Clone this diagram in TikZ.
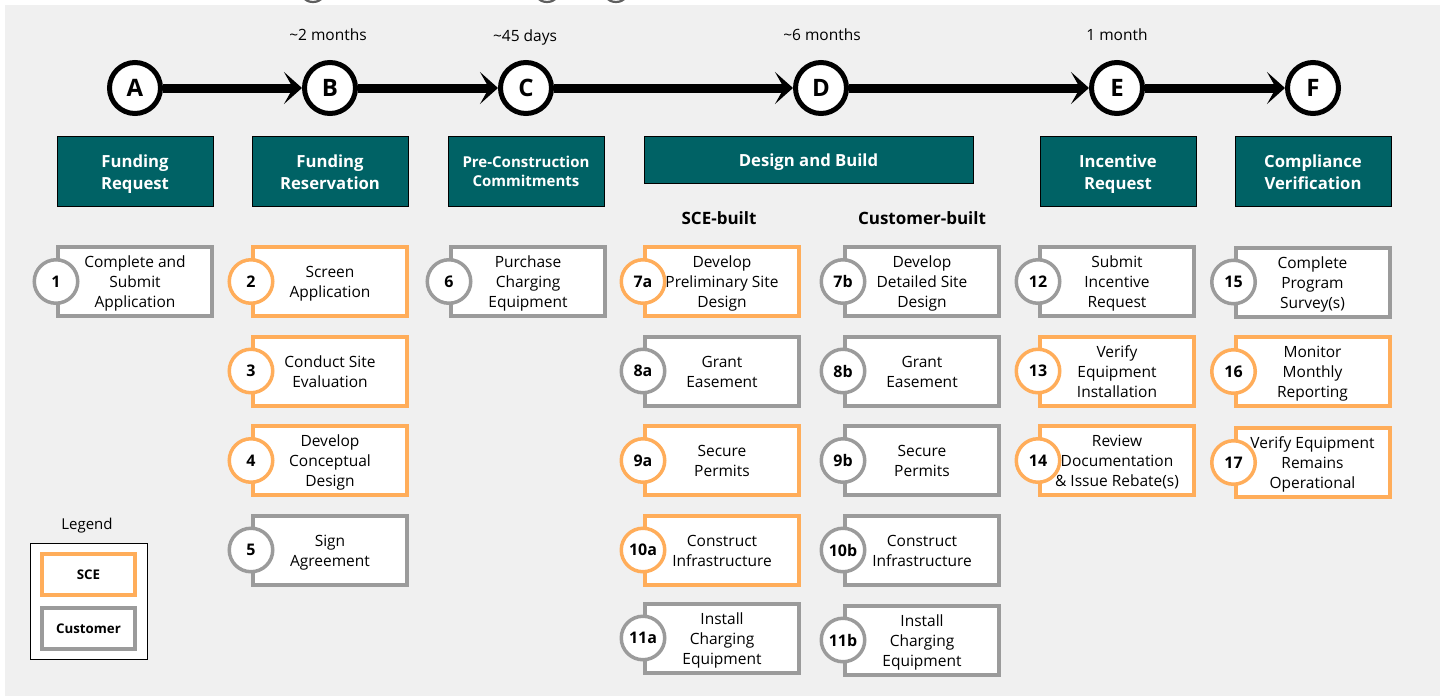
\documentclass[tikz,border=0pt]{standalone}
\usepackage{fontspec}
\setmainfont{Open Sans}
\usetikzlibrary{arrows.meta}
\definecolor{tealhead}{RGB}{0,98,101}
\definecolor{sceorange}{RGB}{255,173,90}
\definecolor{custgray}{RGB}{155,155,155}
\definecolor{bggray}{RGB}{240,240,240}
\definecolor{arcgray}{RGB}{95,95,95}
\newcommand\bodyfont{\fontsize{15.5}{20}\selectfont}
\newcommand\dstrut{\rule[-5pt]{0pt}{5pt}}
\newcommand\stepnode[6]{%
  \node[stepbox=#2] (s#1) at (#3,#4) {};
  \node[steptext] (t#1) at ([yshift=-3pt]s#1.center) {#6};
  \node[numc=#2] (n#1) at (s#1.west) {#5};}
\begin{document}
\begin{tikzpicture}[x=1pt,y=-1pt,
  mile/.style={circle, draw=black, line width=5pt, fill=white, minimum size=51pt, inner sep=0pt, font=\fontsize{24}{24}\selectfont\bfseries},
  conn/.style={line width=9pt, -{Stealth[length=18pt,width=32pt,inset=9pt]}},
  dur/.style={font=\fontsize{15.5}{18}\selectfont, inner sep=0pt},
  head/.style={draw=black, line width=0.8pt, fill=tealhead, minimum width=156pt, minimum height=70pt, inner sep=0pt},
  headtext/.style={text=white, align=center, inner sep=0pt, font=\fontsize{16.7}{22}\selectfont\bfseries, execute at end node=\dstrut},
  sub/.style={font=\fontsize{17}{18}\selectfont\bfseries, inner sep=0pt},
  stepbox/.style={draw=#1, line width=4pt, fill=white, minimum width=154pt, minimum height=69pt, inner sep=0pt},
  steptext/.style={align=center, inner sep=0pt, font=\bodyfont, execute at end node=\dstrut},
  numc/.style={circle, draw=#1, line width=3.5pt, fill=white, minimum size=43.5pt, inner sep=0pt, font=\fontsize{16}{16}\selectfont\bfseries},
  legbox/.style={draw=#1, line width=4pt, fill=white, minimum width=93pt, minimum height=41pt, inner sep=0pt, font=\fontsize{13.3}{13}\selectfont\bfseries}
]
\useasboundingbox (0,0) rectangle (1442,696);
\fill[bggray] (5,5) rectangle (1440,696);
\begin{scope}
  \clip (0,0) rectangle (1442,5);
  \draw[arcgray, line width=2.2pt] (313,-12) circle (14pt);
  \draw[arcgray, line width=2.2pt] (547,-12) circle (14pt);
  \draw[arcgray, line width=2.2pt] (616,-12) circle (14pt);
\end{scope}

% milestones
\node[mile] (A) at (135,88) {A};
\node[mile] (B) at (330,88) {B};
\node[mile] (C) at (526,88) {C};
\node[mile] (D) at (821,88) {D};
\node[mile] (E) at (1117,88) {E};
\node[mile] (F) at (1313,88) {F};
\draw[conn] (A) -- (B);
\draw[conn] (B) -- (C);
\draw[conn] (C) -- (D);
\draw[conn] (D) -- (E);
\draw[conn] (E) -- (F);

\node[dur] (dB) at (328,35) {\textasciitilde2 months};
\node[dur] (dC) at (525,37) {\textasciitilde45 days};
\node[dur] (dD) at (822,35) {\textasciitilde6 months};
\node[dur] (dE) at (1117,35) {1 month};

% headers
\node[head] (hA) at (135,171) {};
\node[headtext] (htA) at ([yshift=-3.5pt]hA.center) {Funding\\Request};
\node[head] (hB) at (330,171) {};
\node[headtext] (htB) at ([yshift=-3.5pt]hB.center) {Funding\\Reservation};
\node[head] (hC) at (526,171) {};
\node[headtext, font=\fontsize{15}{19.5}\selectfont\bfseries] (htC) at ([yshift=-3pt]hC.center) {Pre-Construction\\Commitments};
\node[head, minimum width=329pt, minimum height=47pt] (hD) at (808.5,159.5) {};
\node[headtext] (htD) at ([yshift=-3pt]hD.center) {Design and Build};
\node[head] (hE) at (1118,171) {};
\node[headtext] (htE) at ([yshift=-3.5pt]hE.center) {Incentive\\Request};
\node[head] (hF) at (1313,171) {};
\node[headtext] (htF) at ([yshift=-3.5pt]hF.center) {Compliance\\Verification};

\node[sub] (sa) at (719,218) {SCE-built};
\node[sub] (sb) at (922,218) {Customer-built};

% column 1
\stepnode{1}{custgray}{135}{281.5}{1}{Complete and\\Submit\\Application}
% column 2
\stepnode{2}{sceorange}{330}{281.5}{2}{Screen\\Application}
\stepnode{3}{sceorange}{330}{371}{3}{Conduct Site\\Evaluation}
\stepnode{4}{sceorange}{330}{460.5}{4}{Develop\\Conceptual\\Design}
\stepnode{5}{custgray}{330}{550}{5}{Sign\\Agreement}
% column 3
\stepnode{6}{custgray}{528}{281.5}{6}{Purchase\\Charging\\Equipment}
% column a
\stepnode{7a}{sceorange}{722}{281.5}{7a}{Develop\\Preliminary Site\\Design}
\stepnode{8a}{custgray}{722}{371}{8a}{Grant\\Easement}
\stepnode{9a}{sceorange}{722}{460.5}{9a}{Secure\\Permits}
\stepnode{10a}{sceorange}{722}{550}{10a}{Construct\\Infrastructure}
\stepnode{11a}{custgray}{722}{638}{11a}{Install\\Charging\\Equipment}
% column b
\stepnode{7b}{custgray}{922}{281.5}{7b}{Develop\\Detailed Site\\Design}
\stepnode{8b}{custgray}{922}{371}{8b}{Grant\\Easement}
\stepnode{9b}{custgray}{922}{460.5}{9b}{Secure\\Permits}
\stepnode{10b}{custgray}{922}{550}{10b}{Construct\\Infrastructure}
\stepnode{11b}{custgray}{922}{640}{11b}{Install\\Charging\\Equipment}
% column E
\stepnode{12}{custgray}{1117}{281.5}{12}{Submit\\Incentive\\Request}
\stepnode{13}{sceorange}{1117}{371}{13}{Verify\\Equipment\\Installation}
\stepnode{14}{sceorange}{1117}{460.5}{14}{Review\\Documentation\\\& Issue Rebate(s)}
% column F
\stepnode{15}{custgray}{1312.5}{282}{15}{Complete\\Program\\Survey(s)}
\stepnode{16}{sceorange}{1312.5}{371.5}{16}{Monitor\\Monthly\\Reporting}
\stepnode{17}{sceorange}{1312.5}{462.5}{17}{Verify Equipment\\Remains\\Operational}

% legend
\node[font=\fontsize{15}{18}\selectfont, inner sep=0pt] (legt) at (87,526) {Legend};
\node[draw=black, line width=1.2pt, fill=white, minimum width=117pt, minimum height=116pt, inner sep=0pt] (leg) at (89,601.5) {};
\node[legbox=sceorange] (lsce) at (88.5,574.5) {SCE};
\node[legbox=custgray] (lcust) at (88.5,628.5) {Customer};
\end{tikzpicture}
\end{document}
